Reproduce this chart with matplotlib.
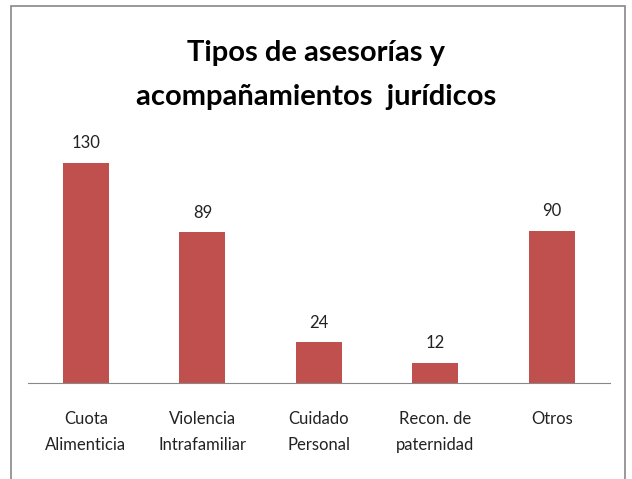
import matplotlib.pyplot as plt
import matplotlib.patches as patches

categorias = ["Cuota\nAlimenticia", "Violencia\nIntrafamiliar", "Cuidado\nPersonal",
              "Recon. de\npaternidad", "Otros"]
valores = [130, 89, 24, 12, 90]

plt.rcParams['font.family'] = ['Lato', 'DejaVu Sans']

fig = plt.figure(figsize=(6.32, 4.79), dpi=100)
ax = fig.add_axes([0.044, 0.2004, 0.921, 0.487])

barras = ax.bar(range(len(valores)), valores, width=0.395, color="#C0504D")
for b, v in zip(barras, valores):
    ax.text(b.get_x() + b.get_width() / 2, v + 7, str(v), ha="center", va="bottom",
            fontsize=12, color="#222222")

ax.set_xlim(-0.5, 4.5)
ax.set_ylim(0, 137.9)
ax.set_xticks(range(len(valores)))
ax.set_xticklabels(categorias, fontsize=12, color="#222222", linespacing=1.75)
ax.tick_params(axis="x", length=0, pad=20)
ax.set_yticks([])
for s in ["top", "right", "left"]:
    ax.spines[s].set_visible(False)
ax.spines["bottom"].set_color("#888888")

fig.text(0.5, 0.843, "Tipos de asesorías y\nacompañamientos  jurídicos", ha="center",
         va="center", fontsize=21, fontweight="bold", linespacing=1.85)

marco = patches.Rectangle((11 / 632, -0.02), 614 / 632, 1 - 6 / 479 + 0.02,
                          transform=fig.transFigure, fill=False, edgecolor="#888888",
                          linewidth=1.2)
fig.patches.append(marco)

fig.savefig("out.png", dpi=100)
